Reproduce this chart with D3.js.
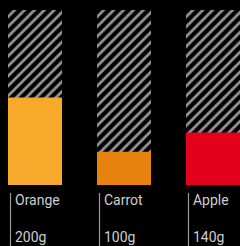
<!DOCTYPE html>
<html><head><meta charset="utf-8">
<script src="https://cdn.jsdelivr.net/npm/d3@7"></script>
<style>html,body{margin:0;padding:0;background:#000;}svg{display:block;}</style>
</head><body>
<script>
const categories = ["Orange", "Carrot", "Apple"];
const weightLabels = ["200g", "100g", "140g"];
const fillPercent = [50, 19, 30];
const colors = ["#F7A92B", "#E8820F", "#E3001A"];

const W = 240, H = 246;
const svg = d3.select("body").append("svg").attr("width", W).attr("height", H);
svg.append("rect").attr("width", W).attr("height", H).attr("fill", "#000");

const defs = svg.append("defs");
const P = 7;
const pat = defs.append("pattern").attr("id", "hatch").attr("patternUnits", "userSpaceOnUse")
  .attr("width", P).attr("height", P).attr("patternTransform", "rotate(45)");
pat.append("rect").attr("width", P).attr("height", P).attr("fill", "#000");
pat.append("line").attr("x1", P / 2).attr("y1", 0).attr("x2", P / 2).attr("y2", P)
  .attr("stroke", "#9c9c9c").attr("stroke-width", 2.6);

const x = d3.scaleBand().domain(categories).range([8, 240]).paddingInner(0.393).paddingOuter(0);
const y = d3.scaleLinear().domain([0, 100]).range([185, 10]);

const g = svg.selectAll("g.bar").data(categories).join("g").attr("class", "bar");
g.append("rect").attr("x", d => x(d)).attr("y", y(100)).attr("width", x.bandwidth())
  .attr("height", y(0) - y(100)).attr("fill", "url(#hatch)");
g.append("rect").attr("x", d => x(d)).attr("y", (d, i) => y(fillPercent[i])).attr("width", x.bandwidth())
  .attr("height", (d, i) => y(0) - y(fillPercent[i])).attr("fill", (d, i) => colors[i]);
g.append("line").attr("x1", d => x(d) + 2.5).attr("x2", d => x(d) + 2.5).attr("y1", 193).attr("y2", 246)
  .attr("stroke", "#9a9a9a").attr("stroke-width", 1.2);
g.append("text").attr("x", d => x(d) + 7).attr("y", 205).text(d => d)
  .attr("fill", "#cfcfcf").attr("font-family", "Roboto").attr("font-size", 14);
g.append("text").attr("x", d => x(d) + 7).attr("y", 242).text((d, i) => weightLabels[i])
  .attr("fill", "#cfcfcf").attr("font-family", "Roboto").attr("font-size", 14);
</script>
</body></html>
